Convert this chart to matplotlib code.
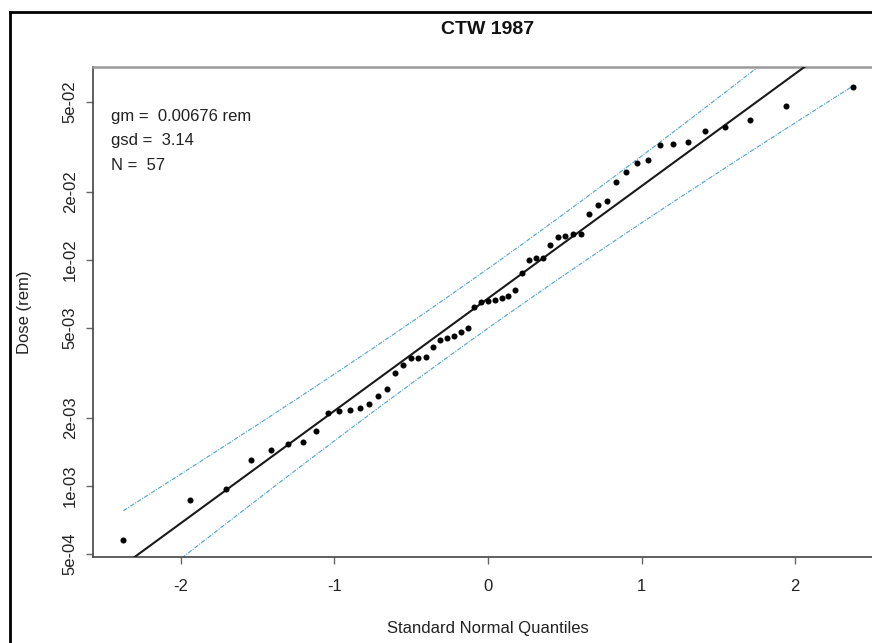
import matplotlib
matplotlib.use("Agg")
import matplotlib.pyplot as plt
import numpy as np
from matplotlib.lines import Line2D
from statistics import NormalDist

# ── data (dose in rem, sorted)
dose = [
    5.77e-4, 8.67e-4, 9.66e-4, 1.30e-3, 1.44e-3, 1.53e-3, 1.56e-3, 1.75e-3,
    2.10e-3, 2.15e-3, 2.18e-3, 2.21e-3, 2.31e-3, 2.50e-3, 2.68e-3, 3.17e-3,
    3.43e-3, 3.67e-3, 3.71e-3, 3.70e-3, 4.12e-3, 4.41e-3, 4.53e-3, 4.61e-3,
    4.79e-3, 5.02e-3, 6.18e-3, 6.55e-3, 6.62e-3, 6.68e-3, 6.82e-3, 6.93e-3,
    7.36e-3, 8.75e-3, 9.98e-3, 1.016e-2, 1.02e-2, 1.17e-2, 1.26e-2, 1.28e-2,
    1.30e-2, 1.31e-2, 1.60e-2, 1.75e-2, 1.83e-2, 2.22e-2, 2.46e-2, 2.69e-2,
    2.76e-2, 3.23e-2, 3.27e-2, 3.33e-2, 3.73e-2, 3.86e-2, 4.15e-2, 4.80e-2,
    5.85e-2,
]
GM = 0.00676
GSD = 3.14
T975 = 2.003        # t quantile, df = 56
BAND_SLOPE = 0.97   # band centre slope relative to the gsd line

y_ticks = [5e-4, 1e-3, 2e-3, 5e-3, 1e-2, 2e-2, 5e-2]
y_tick_labels = ["5e-04", "1e-03", "2e-03", "5e-03", "1e-02", "2e-02", "5e-02"]
x_ticks = [-2, -1, 0, 1, 2]

BAND_COLOR = "#4BA3D6"
AXIS_GRAY = "#444444"

plt.rcParams["font.family"] = ["Liberation Sans", "DejaVu Sans"]

n = len(dose)
nd = NormalDist()
z = np.array([nd.inv_cdf((i + 0.5) / n) for i in range(n)])
ys = np.sort(dose)

# fitted line (gm / gsd)
sd = np.log10(GSD)
zline = np.linspace(-3, 3, 50)
line = np.log10(GM) + sd * zline

# confidence band
zz = np.linspace(z.min(), z.max(), 200)
center = np.log10(GM) + BAND_SLOPE * sd * zz
half = T975 * sd * np.sqrt(1.0 / n + zz ** 2 / (4 * (n - 1)))

fig = plt.figure(figsize=(8.72, 6.43), dpi=100)
ax = fig.add_axes([93 / 872, 86 / 643, 790 / 872, 490 / 643])

ax.plot(zline, 10 ** line, color="#1a1a1a", lw=1.5, zorder=3)
for sign in (1, -1):
    ax.plot(zz, 10 ** (center + sign * half), color=BAND_COLOR, lw=0.8,
            dashes=(4, 1.2, 1, 1.2), zorder=2)
ax.scatter(z, ys, s=19, color="black", zorder=4, linewidths=0)

ax.set_yscale("log")
ax.set_xlim(-2.573, 2.573)
ax.set_ylim(10 ** -3.314, 10 ** -1.146)
ax.set_yticks(y_ticks)
ax.set_yticklabels(y_tick_labels, rotation=90, va="center")
ax.yaxis.set_minor_locator(matplotlib.ticker.NullLocator())
ax.set_xticks(x_ticks)
ax.set_xticklabels([str(v) for v in x_ticks])

ax.tick_params(axis="both", length=5, width=1, color="#666666",
               labelsize=12, labelcolor="#222222")
ax.tick_params(axis="x", pad=11)
ax.tick_params(axis="y", pad=6)

for side in ("left", "bottom"):
    ax.spines[side].set_color(AXIS_GRAY)
    ax.spines[side].set_linewidth(1.2)
ax.spines["top"].set_color("#999999")
ax.spines["top"].set_linewidth(1.8)
ax.spines["right"].set_visible(False)

ax.set_xlabel("Standard Normal Quantiles", fontsize=12, color="#222222",
              labelpad=19)
ax.set_ylabel("Dose (rem)", fontsize=12, color="#222222", labelpad=22)

txt = dict(transform=ax.transAxes, fontsize=12, color="#222222",
           ha="left", va="center")
ax.text(0.023, 0.900, f"gm =  {GM} rem", **txt)
ax.text(0.023, 0.851, f"gsd =  {GSD}", **txt)
ax.text(0.023, 0.800, f"N =  {n}", **txt)

fig.text(488 / 872, 1 - 29 / 643, "CTW 1987", fontsize=14,
         fontweight="bold", ha="center", va="center", color="#111111")

# outer frame (left and top edges)
fx = 10 / 872
fy = 1 - 12 / 643
fig.add_artist(Line2D([fx, fx], [0, fy], color="black", lw=2,
                      transform=fig.transFigure))
fig.add_artist(Line2D([fx, 1], [fy, fy], color="black", lw=2,
                      transform=fig.transFigure))

fig.savefig("out.png", dpi=100)
